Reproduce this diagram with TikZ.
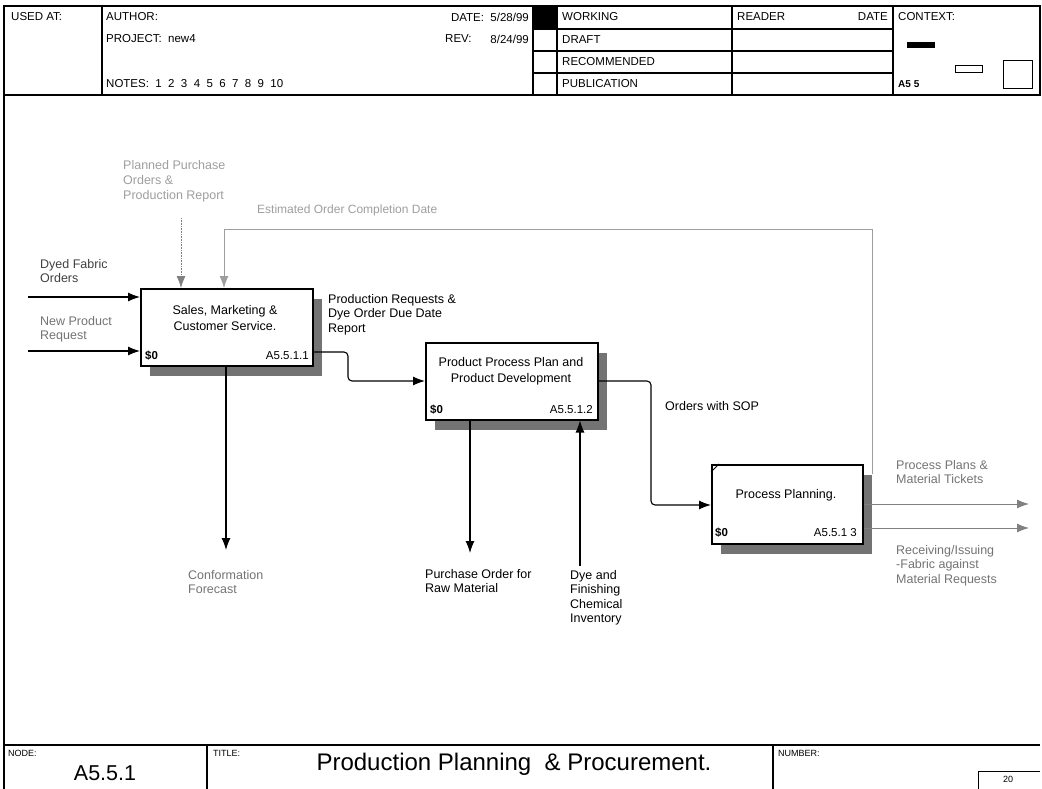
\documentclass[tikz,border=0pt]{standalone}
\usepackage{fontspec}
\setmainfont{Liberation Sans}
\usetikzlibrary{arrows.meta,shadows}
\definecolor{lightlbl}{gray}{0.62}
\definecolor{midlbl}{gray}{0.45}
\definecolor{darklbl}{gray}{0.25}
\definecolor{garrow}{gray}{0.5}
\definecolor{shadowc}{gray}{0.45}
\begin{document}
\begin{tikzpicture}[x=1pt,y=-1pt,
  frame/.style={line width=1.1pt},
  hdr/.style={font=\fontsize{11.5}{13}\selectfont, inner sep=0pt, anchor=west},
  procbox/.style={draw, line width=1.5pt, fill=white, anchor=north west, inner sep=0pt,
    drop shadow={shadow xshift=9pt, shadow yshift=-10pt, fill=shadowc, opacity=1}},
  boxtitle/.style={font=\fontsize{12.5}{16}\selectfont, align=center, inner sep=0pt},
  boxlab/.style={font=\fontsize{11.5}{13}\selectfont, inner sep=0pt},
  lbl/.style={font=\fontsize{12.5}{14.5}\selectfont, align=left, inner sep=0pt, anchor=north west},
  arr/.style={line width=1.1pt, -{Latex[length=12pt,width=9pt]}},
  garr/.style={line width=1pt, draw=garrow, -{Latex[length=12pt,width=9pt]}, garrow},
]
\useasboundingbox (0,0) rectangle (1042,789);
% ---------- header frame ----------
\draw[frame] (4,6) rectangle (1040,95);
\draw[frame] (102,6) -- (102,95);
\draw[frame] (533,6) -- (533,95);
\draw[frame] (557,6) -- (557,95);
\draw[frame] (732,6) -- (732,95);
\draw[frame] (893,6) -- (893,95);
\draw[frame] (533,29) -- (893,29);
\draw[frame] (533,51) -- (893,51);
\draw[frame] (533,73) -- (893,73);
\fill (533,6) rectangle (557,29);
\node[hdr] (usedat) at (11,17) {USED AT:};
\node[hdr] (author) at (106,17) {AUTHOR:};
\node[hdr] (project) at (106,39) {PROJECT:\ \ new4};
\node[hdr] (notes) at (106,84) {NOTES:\ \ 1\ \ 2\ \ 3\ \ 4\ \ 5\ \ 6\ \ 7\ \ 8\ \ 9\ \ 10};
\node[hdr, anchor=east] (date) at (529,17) {DATE:\ \ 5/28/99};
\node[hdr] (rev) at (445,39) {REV:};
\node[hdr, anchor=east] (revd) at (529,39) {8/24/99};
\node[hdr] (working) at (562,17) {WORKING};
\node[hdr] (draft) at (562,40) {DRAFT};
\node[hdr] (recom) at (562,62) {RECOMMENDED};
\node[hdr] (publ) at (562,84) {PUBLICATION};
\node[hdr] (reader) at (737,17) {READER};
\node[hdr, anchor=east] (rdate) at (888,17) {DATE};
\node[hdr] (context) at (898,17) {CONTEXT:};
\node[hdr, font=\fontsize{10}{11}\selectfont\bfseries] (ctxnum) at (898,84) {A5 5};
\fill (907,42) rectangle (935,48);
\draw[line width=0.9pt] (955,65) rectangle (982,72);
\draw[line width=0.9pt] (1003,60) rectangle (1032,88);
% ---------- left border and bottom section ----------
\draw[frame] (4,95) -- (4,789);
\draw[frame] (4,745) -- (1040,745);
\draw[frame] (207,745) -- (207,789);
\draw[frame] (773,745) -- (773,789);
\draw[line width=0.8pt] (978,789) -- (978,771) -- (1040,771);
\node[hdr, font=\fontsize{9}{10}\selectfont] (nodelbl) at (8,753) {NODE:};
\node[hdr, font=\fontsize{21.5}{24}\selectfont, anchor=center] (nodenum) at (105,773) {A5.5.1};
\node[hdr, font=\fontsize{9}{10}\selectfont] (titlelbl) at (213,753) {TITLE:};
\node[hdr, font=\fontsize{24}{28}\selectfont, anchor=center] (title) at (514,764) {Production Planning\ \ \& Procurement.};
\node[hdr, font=\fontsize{9}{10}\selectfont] (numberlbl) at (778,753) {NUMBER:};
\node[hdr, font=\fontsize{9}{10}\selectfont, anchor=center] (pagenum) at (1008,779) {20};
% ---------- activity boxes ----------
\node[procbox, minimum width=172pt, minimum height=77pt] (b1) at (140,288) {};
\node[procbox, minimum width=172pt, minimum height=77pt] (b2) at (425,342) {};
\node[procbox, minimum width=151pt, minimum height=79pt] (b3) at (711,464) {};
\draw[line width=0.8pt] ([yshift=-8pt]b3.north west) -- ([xshift=8pt]b3.north west);
\node[boxtitle] (b1t) at (225,318) {Sales, Marketing \&\\Customer Service.};
\node[boxlab, anchor=west, font=\fontsize{11.5}{13}\selectfont\bfseries] (b1c) at (145,356) {\$0};
\node[boxlab, anchor=east] (b1n) at (309,356) {A5.5.1.1};
\node[boxtitle] (b2t) at (511,371) {Product Process Plan and\\Product Development};
\node[boxlab, anchor=west, font=\fontsize{11.5}{13}\selectfont\bfseries] (b2c) at (430,410) {\$0};
\node[boxlab, anchor=east] (b2n) at (593,410) {A5.5.1.2};
\node[boxtitle] (b3t) at (786,495) {Process Planning.};
\node[boxlab, anchor=west, font=\fontsize{11.5}{13}\selectfont\bfseries] (b3c) at (715,533) {\$0};
\node[boxlab, anchor=east] (b3n) at (857,533) {A5.5.1 3};
% ---------- connectors ----------
\coordinate (i1) at (28,297);
\coordinate (i2) at (28,351);
\draw[arr] (i1) -- (i1 -| b1.west);
\draw[arr] (i2) -- (i2 -| b1.west);
\coordinate (c1) at (181,218);
\draw[garr, line width=0.8pt, dash pattern=on 1pt off 0.6pt] (c1) -- (c1 |- b1.north);
\coordinate (fb0) at (872,474);
\coordinate (fbc) at (224,229);
\draw[garr, draw=lightlbl, lightlbl, line width=0.9pt] (fb0) -- (fb0 |- fbc) -- (fbc) -- (fbc |- b1.north);
\coordinate (k1) at (348,352);
\coordinate (k2) at (348,381);
\draw[arr, rounded corners=4pt] (k1 -| b1.east) -- (k1) -- (k2) -- (k2 -| b2.west);
\coordinate (k3) at (651,381);
\coordinate (k4) at (651,505);
\draw[arr, rounded corners=4pt] (k3 -| b2.east) -- (k3) -- (k4) -- (k4 -| b3.west);
\coordinate (d1) at (226,550);
\draw[arr] (d1 |- b1.south) -- (d1);
\coordinate (d2) at (470,553);
\draw[arr] (d2 |- b2.south) -- (d2);
\coordinate (m1) at (580,566);
\draw[arr] (m1) -- (m1 |- b2.south);
\coordinate (e1) at (1029,504);
\coordinate (e2) at (1029,528);
\draw[garr] (e1 -| b3.east) -- (e1);
\draw[garr] (e2 -| b3.east) -- (e2);
% ---------- labels ----------
\node[lbl, lightlbl, font=\fontsize{12.5}{15}\selectfont] (lppo) at (123,160) {Planned Purchase\\Orders \&\\Production Report};
\node[lbl, lightlbl, font=\fontsize{12}{15}\selectfont] (leoc) at (257,205) {Estimated Order Completion Date};
\node[lbl, darklbl] (ldfo) at (40,259) {Dyed Fabric\\Orders};
\node[lbl, midlbl] (lnpr) at (40,316) {New Product\\Request};
\node[lbl] (lprq) at (328,294) {Production Requests \&\\Dye Order Due Date\\Report};
\node[lbl] (lsop) at (665,401) {Orders with SOP};
\node[lbl, midlbl] (lppm) at (896,460) {Process Plans \&\\Material Tickets};
\node[lbl, midlbl] (lrif) at (896,545) {Receiving/Issuing\\-Fabric against\\Material Requests};
\node[lbl, midlbl] (lcf) at (188,570) {Conformation\\Forecast};
\node[lbl] (lpor) at (425,569) {Purchase Order for\\Raw Material};
\node[lbl] (ldfc) at (570,570) {Dye and\\Finishing\\Chemical\\Inventory};
\end{tikzpicture}
\end{document}
